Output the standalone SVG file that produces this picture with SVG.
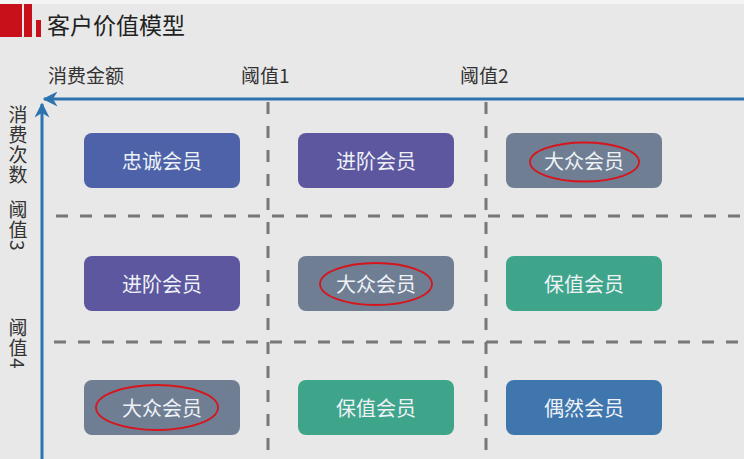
<svg xmlns="http://www.w3.org/2000/svg" width="744" height="459" viewBox="0 0 744 459">
<defs>
<style>
.t{font-family:"Noto Sans CJK SC","Noto Sans",sans-serif;}
.lbl{font-size:19px;fill:#333;}
.vt{writing-mode:vertical-rl;letter-spacing:1px;}
.node rect{stroke:none;}
.node text{font-size:20px;fill:#eef2f7;text-anchor:middle;dominant-baseline:central;}
.dash{stroke:#777;stroke-width:3;stroke-dasharray:12 12;fill:none;}
.axis{stroke:#2c73b0;stroke-width:3;fill:none;}
.ring{fill:none;stroke:#d8141c;stroke-width:1.8;}
</style>
<marker id="ah" viewBox="0 0 10 10" refX="9" refY="5" markerWidth="5" markerHeight="5" orient="auto" markerUnits="strokeWidth">
<path d="M0,0 L10,5 L0,10 L3,5 z" fill="#2c73b0"/>
</marker>
</defs>
<rect width="744" height="459" fill="#e8e8e8"/>
<rect width="744" height="4" fill="#f4f4f4"/>
<g id="header">
<rect x="0" y="4" width="22" height="33" fill="#c8101a"/>
<rect x="24" y="4" width="8" height="33" fill="#c8101a"/>
<rect x="36" y="20" width="5" height="17" fill="#c8101a"/>
<text class="t" x="47" y="34" font-size="23" fill="#222">客户价值模型</text>
</g>
<g id="labels" class="t lbl">
<text x="48" y="83">消费金额</text>
<text x="241" y="83">阈值1</text>
<text x="460" y="83">阈值2</text>
<text class="vt" x="18" y="105">消费次数</text>
<text class="vt" x="18" y="200">阈值3</text>
<text class="vt" x="18" y="318">阈值4</text>
</g>
<g id="connectors">
<line class="dash" x1="268" y1="102" x2="268" y2="459"/>
<line class="dash" x1="486" y1="102" x2="486" y2="459"/>
<line class="dash" x1="56" y1="216" x2="744" y2="216"/>
<line class="dash" x1="54" y1="342" x2="744" y2="342"/>
<line class="axis" x1="744" y1="99" x2="44" y2="99" marker-end="url(#ah)"/>
<line class="axis" x1="42" y1="459" x2="42" y2="104" marker-end="url(#ah)"/>
</g>
<g id="n11" class="node t"><rect x="84" y="133" width="156" height="55" rx="8" fill="#4d62a8"/><text x="162" y="160">忠诚会员</text></g>
<g id="n12" class="node t"><rect x="298" y="133" width="156" height="55" rx="8" fill="#5c579f"/><text x="376" y="160">进阶会员</text></g>
<g id="n13" class="node t"><rect x="506" y="133" width="156" height="55" rx="8" fill="#6f7e92"/><text x="584" y="160">大众会员</text></g>
<g id="n21" class="node t"><rect x="84" y="256" width="156" height="55" rx="8" fill="#5c579f"/><text x="162" y="283">进阶会员</text></g>
<g id="n22" class="node t"><rect x="298" y="256" width="156" height="55" rx="8" fill="#6f7e92"/><text x="376" y="283">大众会员</text></g>
<g id="n23" class="node t"><rect x="506" y="256" width="156" height="55" rx="8" fill="#3fa58a"/><text x="584" y="283">保值会员</text></g>
<g id="n31" class="node t"><rect x="84" y="380" width="156" height="55" rx="8" fill="#6f7e92"/><text x="162" y="407">大众会员</text></g>
<g id="n32" class="node t"><rect x="298" y="380" width="156" height="55" rx="8" fill="#3fa58a"/><text x="376" y="407">保值会员</text></g>
<g id="n33" class="node t"><rect x="506" y="380" width="156" height="55" rx="8" fill="#3e76ad"/><text x="584" y="407">偶然会员</text></g>
<g id="marks">
<ellipse class="ring" cx="584.5" cy="162" rx="54.5" ry="19.5"/>
<ellipse class="ring" cx="376" cy="284" rx="56" ry="21"/>
<ellipse class="ring" cx="157" cy="407.5" rx="61" ry="22.5"/>
</g>
</svg>
